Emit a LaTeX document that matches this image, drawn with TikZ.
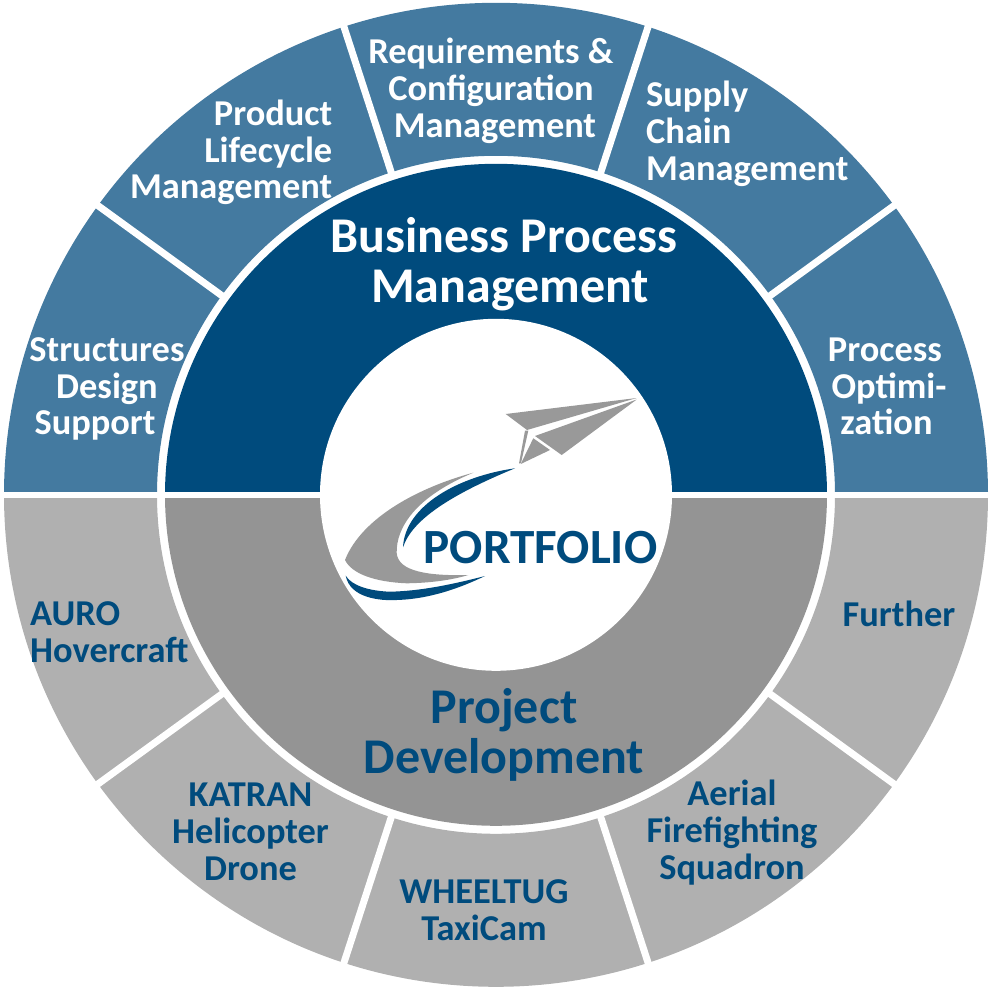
\documentclass[tikz,border=0pt]{standalone}
\usepackage{fontspec}
\setmainfont{Carlito}[Ligatures={Common,TeX}]
\definecolor{darkblue}{HTML}{004B7D}
\definecolor{midblue}{HTML}{447AA0}
\definecolor{darkgrey}{HTML}{949494}
\definecolor{lightgrey}{HTML}{B0B0B0}
\definecolor{logogrey}{HTML}{999999}
\tikzset{
	seglabel/.style={font=\fontsize{36.4}{36.7}\selectfont\bfseries, inner sep=0pt, align=center},
	bluelabel/.style={seglabel, text=white},
	greylabel/.style={seglabel, text=darkblue},
	biglabel/.style={font=\fontsize{50}{50}\selectfont\bfseries, inner sep=0pt, align=center},
	gapline/.style={draw=white, line width=6.5pt}
}

\begin{document}
\begin{tikzpicture}[x=1pt,y=-1pt]
	\useasboundingbox (0,0) rectangle (991,990);

	% Rings
	\begin{scope}[shift={(496,494.8)},y=1pt]
		\fill[midblue] (180:492) arc[start angle=180, end angle=0, radius=492] -- (0:339) arc[start angle=0, end angle=180, radius=339] -- cycle;
		\fill[lightgrey] (180:492) arc[start angle=180, end angle=360, radius=492] -- (0:339) arc[start angle=360, end angle=180, radius=339] -- cycle;
		\fill[darkblue] (180:331) arc[start angle=180, end angle=0, radius=331] -- cycle;
		\fill[darkgrey] (180:331) arc[start angle=180, end angle=360, radius=331] -- cycle;
		\fill[white] (0,0) circle[radius=176];

		% Gaps between the segments
		\foreach \ang in {36,72,108,144,216,252,288,324} {
			\coordinate (in\ang) at (\ang:335);
			\coordinate (out\ang) at (\ang:497);
			\draw[gapline, line width=7pt] (in\ang) -- (out\ang);
		}
		\coordinate (gapW) at (-497,0);
		\coordinate (gapE) at (497,0);
		\coordinate (holeW) at (-176,0);
		\coordinate (holeE) at (176,0);
		\draw[gapline] (gapW) -- (holeW);
		\draw[gapline] (holeE) -- (gapE);
	\end{scope}

	% Logo
	\fill[logogrey] (505.7,414) -- (636.7,398) -- (527,430) -- cycle;
	\fill[logogrey] (636.7,399.5) -- (561.7,455) -- (535,436) -- cycle;
	\fill[logogrey] (533.3,438.3) -- (550,450) -- (520.7,464) -- cycle;
	\fill[logogrey] (525,430.7) -- (528.3,430.7) -- (521,463) -- (519,463.5) -- cycle;
	\fill[logogrey] (473.3,472.7) .. controls (420,487) and (362,517) .. (345,560)
		.. controls (352,574) and (375,582) .. (406.7,583.3)
		.. controls (430,583) and (452,580) .. (468.3,575)
		.. controls (430,576) and (398,572) .. (396.7,553)
		.. controls (396,528) and (415,497) .. (473.3,472.7) -- cycle;
	\fill[darkblue] (515,468.3) .. controls (460,476) and (405,505) .. (403,547.3)
		.. controls (412,520) and (450,495) .. (515,468.3) -- cycle;
	\fill[darkblue] (345.7,575.7) .. controls (350,598) and (380,601) .. (396.7,600)
		.. controls (430,599) and (460,588) .. (485,576)
		.. controls (450,585) and (420,591) .. (390,591.7)
		.. controls (370,591) and (352,586) .. (345.7,575.7) -- cycle;
	\node[font=\fontsize{49.2}{60}\selectfont\bfseries, text=darkblue, inner sep=0pt] (portfolio) at (540.5,548) {PORTFOLIO};

	% Inner ring labels
	\node[biglabel, text=white] (bpm) at (504,264) {Business Process\\\hspace*{12pt}Management};
	\node[biglabel, text=darkblue] (dev) at (504,734.5) {Project\\Development};

	% Upper segments
	\node[bluelabel] (design) at (107,389) {Structures\\Design\\Support\hspace*{24pt}};
	\node[bluelabel, anchor=east, align=right] (plm) at (332.5,152.5) {Product\\Lifecycle\\Management};
	\node[bluelabel] (reqs) at (491,91) {Requirements \&\\Configuration\\\hspace*{8pt}Management};
	\node[bluelabel, anchor=west, align=left] (supply) at (646,134) {Supply\\Chain\\Management};
	\node[bluelabel] (process) at (885,386.5) {Process\\\hspace*{8pt}Optimi-\\\hspace*{3pt}zation};

	% Lower segments
	\node[greylabel, anchor=west, align=left] (auro) at (30,632.5) {AURO\\Hovercraft};
	\node[greylabel] (katran) at (250.5,832) {KATRAN\\Helicopter\\Drone};
	\node[greylabel] (wheeltug) at (484,910) {WHEELTUG\\TaxiCam};
	\node[greylabel] (aerial) at (732,832.5) {Aerial\\Firefighting\\Squadron};
	\node[greylabel] (further) at (899,614) {Further};
\end{tikzpicture}
\end{document}
